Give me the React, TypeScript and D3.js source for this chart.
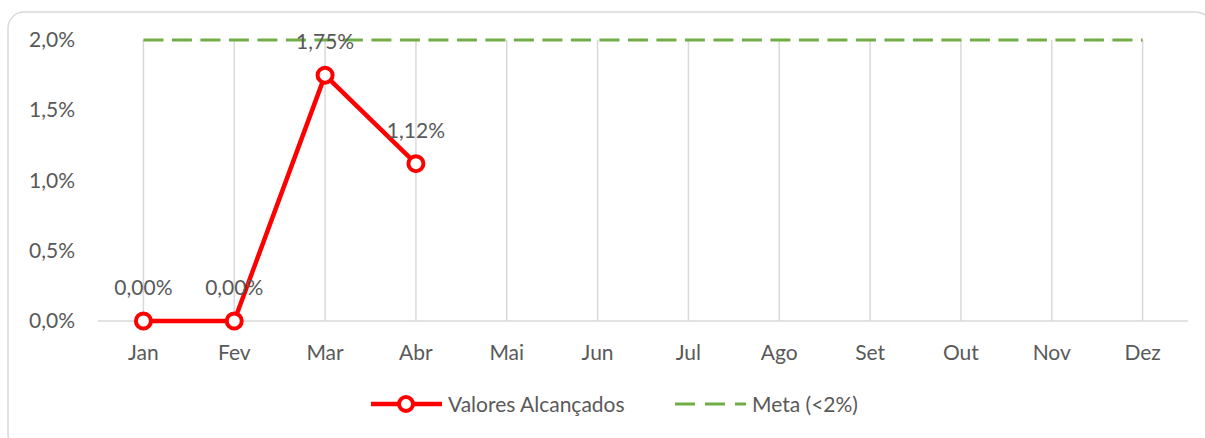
import React from 'react';
import * as d3 from 'd3';

// Chart data
const months = ['Jan', 'Fev', 'Mar', 'Abr', 'Mai', 'Jun', 'Jul', 'Ago', 'Set', 'Out', 'Nov', 'Dez'];
const achieved = [0, 0, 1.75, 1.12]; // % reached, Jan..Abr
const goal = [2, 2, 2, 2, 2, 2, 2, 2, 2, 2, 2, 2]; // Meta (<2%)
const yTicks = [0, 0.5, 1, 1.5, 2];

const W = 1205;
const H = 438;
const font = 'Lato, "Open Sans", sans-serif';
const fs = 21;
const textColor = '#595959';
const gridColor = '#d9d9d9';
const red = '#ff0000';
const green = '#70ad47';

const fmt = (v: number, d: number) => v.toFixed(d).replace('.', ',') + '%';

const App = () => {
  const x = d3.scalePoint<string>().domain(months).range([98, 1188]).padding(0.5);
  const y = d3.scaleLinear().domain([0, 2]).range([321, 40]);

  const lineGen = d3
    .line<number>()
    .x((_, i) => x(months[i]) as number)
    .y((d) => y(d));

  return (
    <svg
      width={W}
      height={H}
      style={{ position: 'absolute', left: 0, top: 0, background: '#fff' }}
      fontFamily={font}
    >
      {/* chart frame */}
      <rect x={8} y={12} width={1204} height={438} rx={16} fill="#fff" stroke={gridColor} strokeWidth={1.5} />

      {/* vertical gridlines */}
      {months.map((m) => (
        <line key={m} x1={x(m)} x2={x(m)} y1={y(2)} y2={y(0)} stroke={gridColor} strokeWidth={1.5} />
      ))}
      {/* baseline */}
      <line x1={98} x2={1188} y1={y(0)} y2={y(0)} stroke={gridColor} strokeWidth={1.5} />

      {/* y tick labels */}
      {yTicks.map((t) => (
        <text key={t} x={75} y={y(t) + 7} textAnchor="end" fontSize={fs} fill={textColor}>
          {fmt(t, 1)}
        </text>
      ))}

      {/* x tick labels */}
      {months.map((m) => (
        <text key={m} x={x(m)} y={360} textAnchor="middle" fontSize={fs} fill={textColor}>
          {m}
        </text>
      ))}

      {/* goal line */}
      <path d={lineGen(goal) as string} fill="none" stroke={green} strokeWidth={3} strokeDasharray="20,8.5" />

      {/* achieved values */}
      <path d={lineGen(achieved) as string} fill="none" stroke={red} strokeWidth={4.5} strokeLinejoin="round" />
      {achieved.map((v, i) => (
        <circle key={i} cx={x(months[i])} cy={y(v)} r={7.5} fill="#fff" stroke={red} strokeWidth={4} />
      ))}
      {achieved.map((v, i) => (
        <text key={'l' + i} x={x(months[i])} y={y(v) - 26} textAnchor="middle" fontSize={fs} fill={textColor}>
          {fmt(v, 2)}
        </text>
      ))}

      {/* legend */}
      <line x1={371} x2={442} y1={404} y2={404} stroke={red} strokeWidth={4.5} />
      <circle cx={406} cy={404} r={7} fill="#fff" stroke={red} strokeWidth={4} />
      <text x={448} y={412} fontSize={fs} fill={textColor}>Valores Alcançados</text>
      <line x1={675} x2={746} y1={404} y2={404} stroke={green} strokeWidth={3} strokeDasharray="20,10" />
      <text x={752} y={412} fontSize={fs} fill={textColor}>Meta (&lt;2%)</text>
    </svg>
  );
};

export default App;
